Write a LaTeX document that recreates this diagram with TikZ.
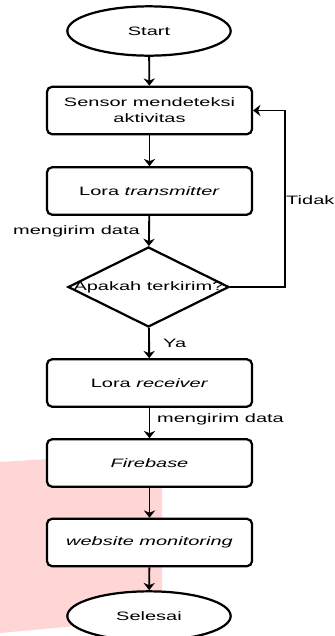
\documentclass[tikz,border=0pt]{standalone}
\usepackage{fontspec}
\setmainfont{Liberation Sans}[FakeStretch=1.64]
\usetikzlibrary{shapes.geometric,arrows.meta}
\definecolor{pinkbg}{RGB}{255,214,214}

\begin{document}
\begin{tikzpicture}[x=0.03cm,y=-0.03cm]
			\tikzstyle{every node}+=[inner sep=0pt,font=\fontsize{10.4}{13.6}\selectfont]
			\tikzstyle{terminal}=[draw,ellipse,line width=1.9pt,fill=white,minimum width=4.9cm,minimum height=1.48cm]
			\tikzstyle{proses}=[draw,rectangle,rounded corners=0.15cm,line width=1.9pt,fill=white,minimum width=6.15cm,minimum height=1.42cm,align=center]
			\tikzstyle{keputusan}=[draw,diamond,line width=1.9pt,fill=white,minimum width=4.83cm,minimum height=2.4cm]
			\tikzstyle{panah}=[line width=1.6pt,-{Stealth[length=0.22cm,width=0.34cm,inset=0.07cm]}]
			\useasboundingbox (0,0) rectangle (335,636);
			\fill [pinkbg] (0,462) -- (162,452) -- (162,618) -- (0,633) -- cycle;
			\node [terminal] (start) at (149,31) {Start};
			\node [proses] (sensor) at (149.5,110.5) {Sensor mendeteksi\\aktivitas};
			\node [proses] (tx) at (149.5,191) {Lora \textit{transmitter}};
			\node [keputusan,label=center:{Apakah terkirim?}] (cek) at (148.5,287) {};
			\node [proses] (rx) at (149.5,383) {Lora \textit{receiver}};
			\node [proses] (firebase) at (149.5,463) {\textit{Firebase}};
			\node [proses] (web) at (149.5,542.5) {\textit{website monitoring}};
			\node [terminal] (selesai) at (149,616) {Selesai};
			\coordinate (belok) at (285,287);
			\draw [panah] (start) -- (sensor);
			\draw [panah] (sensor) -- (tx);
			\draw [panah] (tx) -- (cek);
			\node [anchor=east] (kirim1) at (140,231) {mengirim data};
			\draw [panah,line width=1.3pt] (cek.east) -- (belok) |- (sensor.east);
			\node [anchor=west] (tidak) at (286,200) {Tidak};
			\draw [panah] (cek) -- (rx);
			\node [anchor=west] (ya) at (163,343) {Ya};
			\draw [panah] (rx) -- (firebase);
			\node [anchor=west] (kirim2) at (157,419) {mengirim data};
			\draw [panah] (firebase) -- (web);
			\draw [panah] (web) -- (selesai);
		\end{tikzpicture}
\end{document}
